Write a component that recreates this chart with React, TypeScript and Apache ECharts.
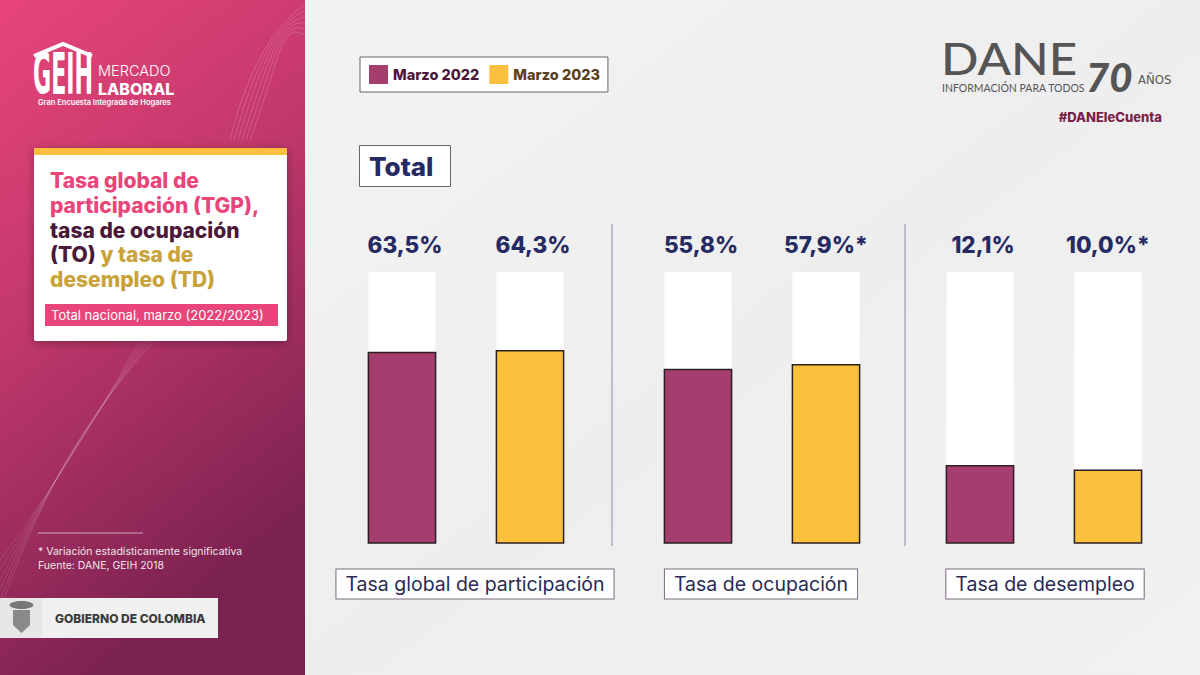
import React, { useEffect, useRef } from "react";
import * as echarts from "echarts";

// ---- data ----
const categories = ["Tasa global de participación", "Tasa de ocupación", "Tasa de desempleo"];
const years = ["Marzo 2022", "Marzo 2023"];
const values2022 = [63.5, 55.8, 12.1];
const values2023 = [64.3, 57.9, 10.0];
const significant2022 = [false, false, false];
const significant2023 = [false, true, true];

// ---- layout / style ----
const groupCenters = [466, 762, 1044];
const labelCenters = [475, 761, 1045];
const yearColors = ["#a63d6f", "#fcc03e"];
const AXIS_MIN = -23;
const AXIS_MAX = 100;
const FONT = "Inter, 'Noto Sans', sans-serif";
const NAVY = "#262a63";

export default function App() {
  const ref = useRef<HTMLDivElement>(null);

  useEffect(() => {
    if (!ref.current) return;
    const chart = echarts.init(ref.current, null, { renderer: "svg" });

    const grids = groupCenters.map((c) => ({ left: c - 128, width: 256, top: 272, height: 271 }));
    const xAxes = groupCenters.map((_, i) => ({
      type: "category",
      gridIndex: i,
      data: years,
      show: false,
    }));
    const yAxes = groupCenters.map((_, i) => ({
      type: "value",
      gridIndex: i,
      min: AXIS_MIN,
      max: AXIS_MAX,
      show: false,
    }));

    const allValues = [values2022, values2023];
    const allSig = [significant2022, significant2023];

    const renderItem = (params: any, api: any) => {
      const xi = api.value(0);
      const v = api.value(1);
      const sig = api.value(2);
      const top = api.coord([xi, v]);
      const base = api.coord([xi, AXIS_MIN]);
      const full = api.coord([xi, AXIS_MAX]);
      const w = api.size([1, 0])[0] * 0.525;
      const label = v.toFixed(1).replace(".", ",") + "%" + (sig ? "*" : "");
      return {
        type: "group",
        children: [
          {
            type: "rect",
            shape: { x: top[0] - w / 2, y: full[1], width: w, height: base[1] - full[1] },
            style: { fill: "#ffffff" },
          },
          {
            type: "rect",
            shape: { x: top[0] - w / 2, y: top[1], width: w, height: base[1] - top[1] },
            style: { fill: api.visual("color"), stroke: "#2a2020", lineWidth: 1.5 },
          },
          {
            type: "text",
            x: top[0] + (sig ? 0 : 3),
            y: full[1] - 28,
            style: {
              text: label,
              fill: NAVY,
              font: `800 22.5px ${FONT}`,
              align: "center",
              verticalAlign: "middle",
            },
          },
        ],
      };
    };

    const series: any[] = [];
    categories.forEach((_, g) => {
      years.forEach((yr, y) => {
        series.push({
          type: "custom",
          name: yr,
          xAxisIndex: g,
          yAxisIndex: g,
          itemStyle: { color: yearColors[y] },
          renderItem,
          data: [[y, allValues[y][g], allSig[y][g] ? 1 : 0]],
        });
      });
    });

    const graphic: any[] = [
      // right background
      {
        type: "rect",
        z: -10,
        shape: { x: 305, y: 0, width: 895, height: 675 },
        style: {
          fill: {
            type: "linear", x: 0, y: 0, x2: 1, y2: 1,
            colorStops: [
              { offset: 0, color: "#f3f3f3" },
              { offset: 0.5, color: "#eeeeee" },
              { offset: 1, color: "#f1f1f1" },
            ],
          },
        },
      },
      // left panel
      {
        type: "rect",
        z: -10,
        shape: { x: 0, y: 0, width: 305, height: 675 },
        style: {
          fill: {
            type: "linear", x: 0, y: 0, x2: 0.35, y2: 1,
            colorStops: [
              { offset: 0, color: "#e8457a" },
              { offset: 0.45, color: "#c2386c" },
              { offset: 1, color: "#7a2250" },
            ],
          },
        },
      },
      // decorative waves on panel
      ...[0, 1, 2, 3, 4, 5].map((k) => ({
        type: "bezierCurve",
        z: -9,
        shape: { x1: 230 + k * 4, y1: 140, cpx1: 250 + k * 6, cpy1: 60, cpx2: 280, cpy2: 20, x2: 305, y2: 5 + k * 6 },
        style: { stroke: "rgba(255,255,255,0.18)", lineWidth: 1, fill: null },
      })),
      ...[0, 1, 2, 3, 4, 5].map((k) => ({
        type: "bezierCurve",
        z: -9,
        shape: { x1: 0, y1: 560 + k * 10, cpx1: 60, cpy1: 480 - k * 8, cpx2: 120, cpy2: 380, x2: 160 + k * 6, y2: 300 },
        style: { stroke: "rgba(255,255,255,0.12)", lineWidth: 1, fill: null },
      })),
      // GEIH logo
      {
        type: "text", x: 33, y: 75, scaleX: 0.44,
        style: { text: "GEIH", fill: "#fff", font: "bold 56px 'DejaVu Sans Condensed', sans-serif", verticalAlign: "middle", lineHeight: 44 },
      },
      {
        type: "polyline",
        shape: { points: [[34, 56], [63, 44], [92, 56]] },
        style: { stroke: "#fff", lineWidth: 4, fill: null },
      },
      {
        type: "text", x: 98, y: 70.5,
        style: { text: "MERCADO", fill: "#fff", font: `300 14.5px ${FONT}`, verticalAlign: "middle", lineHeight: 14 },
      },
      {
        type: "text", x: 98, y: 88.5,
        style: { text: "LABORAL", fill: "#fff", font: `800 16px ${FONT}`, verticalAlign: "middle", lineHeight: 16 },
      },
      {
        type: "text", x: 38, y: 102,
        style: { text: "Gran Encuesta Integrada de Hogares", fill: "#fff", font: `600 7.5px ${FONT}`, verticalAlign: "middle" },
      },
      // title card
      {
        type: "rect",
        shape: { x: 34, y: 148, width: 253, height: 193, r: 2 },
        style: { fill: "#ffffff", shadowBlur: 10, shadowColor: "rgba(0,0,0,0.3)", shadowOffsetY: 2 },
      },
      {
        type: "rect",
        shape: { x: 34, y: 148, width: 253, height: 7, r: [2, 2, 0, 0] },
        style: { fill: "#fcc03e" },
      },
      {
        type: "text", x: 50, y: 168,
        style: {
          text: "{p|Tasa global de}\n{p|participación (TGP),}\n{d|tasa de ocupación}\n{d|(TO)} {g|y tasa de}\n{g|desempleo (TD)}",
          font: `800 21px ${FONT}`,
          lineHeight: 24.8,
          rich: {
            p: { fill: "#e8457a", font: `800 21px ${FONT}`, lineHeight: 24.8 },
            d: { fill: "#4a1838", font: `800 21px ${FONT}`, lineHeight: 24.8 },
            g: { fill: "#c9a23a", font: `800 21px ${FONT}`, lineHeight: 24.8 },
          },
        },
      },
      {
        type: "rect",
        shape: { x: 45, y: 304, width: 233, height: 22 },
        style: { fill: "#e8457a" },
      },
      {
        type: "text", x: 51, y: 315,
        style: { text: "Total nacional, marzo (2022/2023)", fill: "#fff", font: `400 13px ${FONT}`, verticalAlign: "middle" },
      },
      // footnote
      {
        type: "line",
        shape: { x1: 38, y1: 533, x2: 143, y2: 533 },
        style: { stroke: "rgba(255,255,255,0.6)", lineWidth: 1 },
      },
      {
        type: "text", x: 38, y: 551,
        style: { text: "* Variación estadísticamente significativa", fill: "rgba(255,255,255,0.9)", font: `400 10.5px ${FONT}`, verticalAlign: "middle" },
      },
      {
        type: "text", x: 38, y: 565,
        style: { text: "Fuente: DANE, GEIH 2018", fill: "rgba(255,255,255,0.9)", font: `400 10.5px ${FONT}`, verticalAlign: "middle" },
      },
      // gobierno box
      {
        type: "rect",
        shape: { x: 0, y: 598, width: 218, height: 40 },
        style: { fill: "#f0f0f0" },
      },
      {
        type: "rect",
        shape: { x: 0, y: 598, width: 42, height: 40 },
        style: { fill: "#e6e6e6" },
      },
      {
        type: "polygon",
        shape: { points: [[13, 610], [30, 610], [30, 625], [21.5, 633], [13, 625]] },
        style: { fill: "#8a8a8a" },
      },
      {
        type: "ellipse",
        shape: { cx: 21.5, cy: 605, rx: 12, ry: 4 },
        style: { fill: "#777" },
      },
      {
        type: "text", x: 55, y: 618,
        style: { text: "GOBIERNO DE COLOMBIA", fill: "#3a3a3a", font: `800 12px ${FONT}`, verticalAlign: "middle" },
      },
      // DANE logo
      {
        type: "text", x: 941, y: 58, scaleX: 1.12,
        style: { text: "DANE", fill: "#555555", font: "500 44px Lato, sans-serif", verticalAlign: "middle", lineHeight: 34 },
      },
      {
        type: "text", x: 942, y: 88,
        style: { text: "INFORMACIÓN PARA TODOS", fill: "#555555", font: "400 10.5px Lato, sans-serif", verticalAlign: "middle", lineHeight: 11 },
      },
      {
        type: "text", x: 1086, y: 77,
        style: { text: "70", fill: "#555555", font: "italic 900 40px Lato, sans-serif", verticalAlign: "middle", lineHeight: 32 },
      },
      {
        type: "text", x: 1138, y: 79,
        style: { text: "AÑOS", fill: "#555555", font: "400 13px 'DejaVu Sans Condensed', sans-serif", verticalAlign: "middle" },
      },
      {
        type: "text", x: 1162, y: 117,
        style: { text: "#DANEleCuenta", fill: "#7a1f4a", font: `800 13px ${FONT}`, align: "right", verticalAlign: "middle" },
      },
      // Total box
      {
        type: "rect",
        shape: { x: 359.5, y: 145.5, width: 91, height: 41 },
        style: { fill: "#ffffff", stroke: "#666", lineWidth: 1 },
      },
      {
        type: "text", x: 369, y: 166,
        style: { text: "Total", fill: NAVY, font: `800 26px ${FONT}`, verticalAlign: "middle" },
      },
      // dividers
      {
        type: "line",
        shape: { x1: 612, y1: 224, x2: 612, y2: 546 },
        style: { stroke: "#8a8aa6", lineWidth: 1 },
      },
      {
        type: "line",
        shape: { x1: 905, y1: 224, x2: 905, y2: 546 },
        style: { stroke: "#8a8aa6", lineWidth: 1 },
      },
      // category labels
      ...categories.map((c, i) => ({
        type: "text",
        x: labelCenters[i],
        y: 584,
        style: {
          text: c,
          fill: "#2a2a55",
          font: `400 19.5px ${FONT}`,
          align: "center",
          verticalAlign: "middle",
          backgroundColor: "#ffffff",
          borderColor: "#7a6a80",
          borderWidth: 1,
          padding: [5, 9, 4, 9],
        },
      })),
    ];

    chart.setOption({
      animation: false,
      grid: grids,
      xAxis: xAxes,
      yAxis: yAxes,
      legend: {
        left: 360,
        top: 57,
        orient: "horizontal",
        icon: "rect",
        itemWidth: 19,
        itemHeight: 19,
        itemGap: 10,
        padding: [8, 8, 8, 9],
        backgroundColor: "#ffffff",
        borderColor: "#666",
        borderWidth: 1,
        borderRadius: 0,
        selectedMode: false,
        data: [
          { name: years[0], textStyle: { color: "#4a1838" } },
          { name: years[1], textStyle: { color: "#5a4020" } },
        ],
        textStyle: { fontFamily: FONT, fontWeight: 800, fontSize: 14.5 },
      },
      graphic,
      series,
    });

    return () => chart.dispose();
  }, []);

  return (
    <div
      ref={ref}
      style={{ position: "absolute", left: 0, top: 0, width: 1200, height: 675 }}
    />
  );
}
